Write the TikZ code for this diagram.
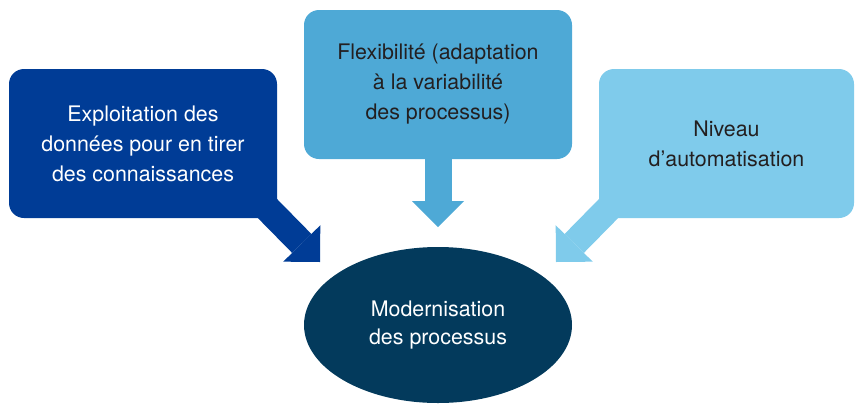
\documentclass[tikz,border=0pt]{standalone}
\usepackage{fontspec}
\setmainfont{TeX Gyre Heros}
\usetikzlibrary{arrows.meta,shapes.geometric}

\definecolor{darkblue}{RGB}{0,60,150}
\definecolor{midblue}{RGB}{78,169,214}
\definecolor{lightblue}{RGB}{127,203,235}
\definecolor{navy}{RGB}{3,58,92}
\definecolor{darktext}{RGB}{35,31,32}

\tikzset{
  box/.style={rectangle,rounded corners=15pt,minimum width=268pt,
    minimum height=149pt,align=center,inner sep=0pt,
    font=\fontsize{21.4}{30}\selectfont},
  fat/.style={line width=27pt,
    -{Triangle[width=52pt,length=26pt,line width=0pt]}}
}

\begin{document}
\begin{tikzpicture}[x=1pt,y=-1pt]
\useasboundingbox (0,0) rectangle (855,405);

% the three sources
\node[box,fill=darkblue,text=white] (expl) at (143,143.5)
  {Exploitation des\\données pour en tirer\\des connaissances};
\node[box,fill=midblue,text=darktext] (flex) at (438,84.5)
  {Flexibilité (adaptation\\à la variabilité\\des processus)};
\node[box,fill=lightblue,text=darktext,minimum width=255pt] (auto) at (726.5,143.5)
  {Niveau\\d’automatisation};

% the goal
\node[ellipse,fill=navy,text=white,minimum width=268pt,minimum height=156pt,
  inner sep=0pt,align=center,font=\fontsize{21.4}{28}\selectfont] (modern) at (438,325)
  {Modernisation\\des processus};

% arrows
\coordinate (tipL) at (320,262);
\coordinate (tipM) at (438,227);
\coordinate (tipR) at (556,262);

\draw[fat,darkblue] (expl.south east) ++(-14,-14) -- (tipL);
\draw[fat,midblue] (flex.south) ++(0,-10) -- (tipM);
\draw[fat,lightblue] (auto.south west) ++(14,-14) -- (tipR);

\end{tikzpicture}
\end{document}
